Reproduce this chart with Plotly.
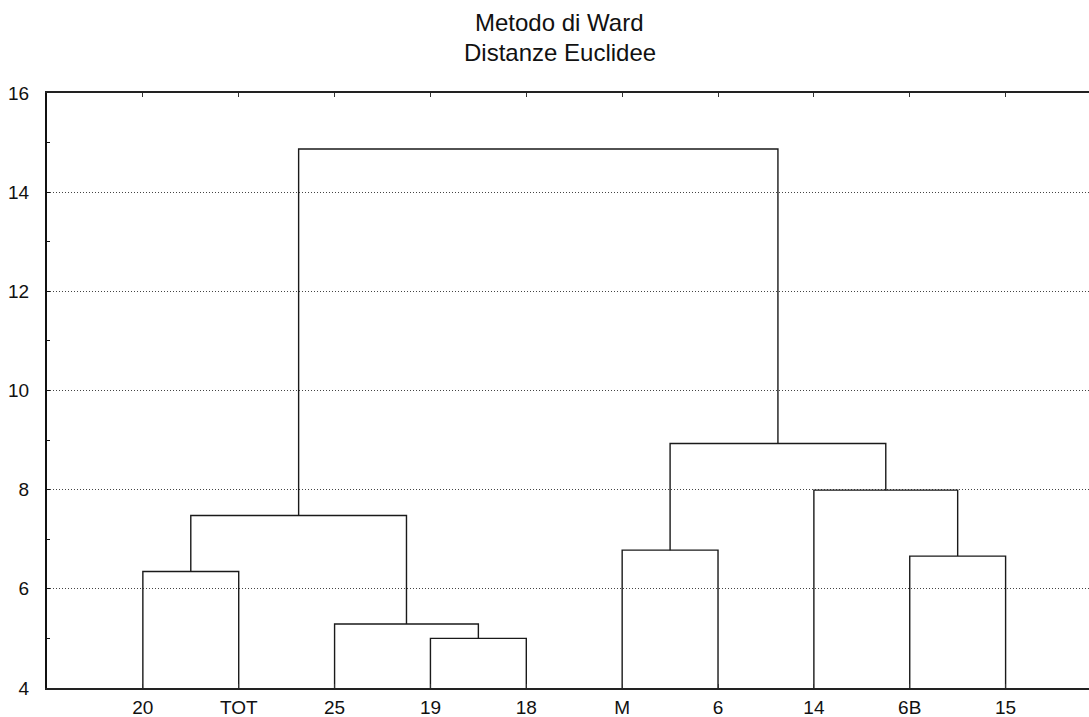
import plotly.graph_objects as go

# ---- data ----
leaf_labels = ["20", "TOT", "25", "19", "18", "M", "6", "14", "6B", "15"]
# linkage: clusters 0..9 are leaves, new clusters numbered 10, 11, ...
merge_left = [3, 2, 0, 12, 5, 8, 7, 14, 13]
merge_right = [4, 10, 1, 11, 6, 9, 15, 16, 17]
merge_height = [5.00, 5.29, 6.35, 7.48, 6.78, 6.66, 7.99, 8.93, 14.87]

y_ticks = [4, 6, 8, 10, 12, 14, 16]
title_lines = ["Metodo di Ward", "Distanze Euclidee"]

# ---- geometry from linkage ----
n = len(leaf_labels)
xpos = {i: i + 1 for i in range(n)}
ypos = {i: 4.0 for i in range(n)}
xs, ys = [], []
for k, (a, b, h) in enumerate(zip(merge_left, merge_right, merge_height)):
    cid = n + k
    xs += [xpos[a], xpos[a], xpos[b], xpos[b], None]
    ys += [ypos[a], h, h, ypos[b], None]
    xpos[cid] = (xpos[a] + xpos[b]) / 2
    ypos[cid] = h

W, H = 1089, 717
ml, mr, mt, mb = 47, 0, 93, 29

fig = go.Figure()
fig.add_trace(go.Scatter(x=xs, y=ys, mode="lines",
                         line=dict(color="#1a1a1a", width=1.4),
                         hoverinfo="skip", showlegend=False))

font = dict(family="Liberation Sans, Arial, sans-serif", size=19, color="#111")
title_font = dict(family="Liberation Sans, Arial, sans-serif", size=24, color="#111")

fig.update_layout(
    width=W, height=H,
    margin=dict(l=ml, r=mr, t=mt, b=mb, autoexpand=False),
    paper_bgcolor="white", plot_bgcolor="white",
    font=font,
    showlegend=False,
    xaxis=dict(
        range=[0, 10.87], automargin=False,
        tickmode="array", tickvals=[i + 1 for i in range(n)], ticktext=leaf_labels,
        ticks="inside", ticklen=4, tickwidth=1, tickcolor="#333",
        showline=True, linecolor="#222", linewidth=1.5, mirror="ticks",
        showgrid=False, zeroline=False, ticklabelstandoff=1,
        tickfont=font,
    ),
    yaxis=dict(
        range=[4, 16], automargin=False,
        tickmode="array", tickvals=y_ticks,
        ticks="inside", ticklen=3, tickwidth=1, tickcolor="#111",
        minor=dict(tickvals=[5, 7, 9, 11, 13, 15], ticks="inside", ticklen=3,
                   tickwidth=1, tickcolor="#111", showgrid=False),
        showline=True, linecolor="#111", linewidth=2, mirror=False,
        showgrid=True, gridcolor="#444", gridwidth=1, griddash="1px,2px",
        zeroline=False, ticklabelstandoff=12,
        tickfont=font,
    ),
)

plot_h = H - mt - mb
plot_w = W - ml - mr
cx = (559.5 - ml) / plot_w
for txt, py in zip(title_lines, [22.5, 52.5]):
    fig.add_annotation(text=txt, x=cx, xref="paper",
                       y=(H - mb - py) / plot_h, yref="paper",
                       showarrow=False, xanchor="center", yanchor="middle",
                       font=title_font)

fig.write_html("out.html")
